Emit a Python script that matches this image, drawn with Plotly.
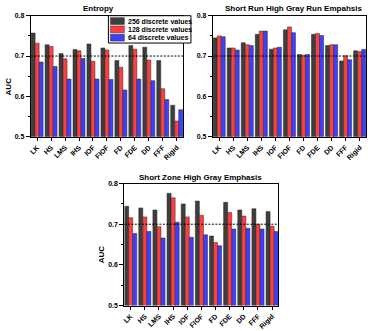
import plotly.graph_objs as go

methods = ['LK', 'HS', 'LMS', 'IHS', 'IOF', 'FIOF', 'FD', 'FDE', 'DD', 'FFF', 'Rigid']
series_names = ['256 discrete values', '128 discrete values', '64 discrete values']

entropy_256 = [0.757, 0.728, 0.706, 0.716, 0.730, 0.720, 0.689, 0.726, 0.722, 0.689, 0.578]
entropy_128 = [0.732, 0.724, 0.693, 0.713, 0.687, 0.715, 0.672, 0.717, 0.690, 0.619, 0.539]
entropy_64 = [0.685, 0.674, 0.643, 0.694, 0.643, 0.642, 0.616, 0.643, 0.639, 0.592, 0.567]

srhge_256 = [0.745, 0.720, 0.733, 0.754, 0.717, 0.765, 0.704, 0.754, 0.726, 0.688, 0.713]
srhge_128 = [0.750, 0.720, 0.728, 0.762, 0.720, 0.772, 0.702, 0.756, 0.728, 0.701, 0.711]
srhge_64 = [0.748, 0.715, 0.726, 0.762, 0.722, 0.758, 0.704, 0.751, 0.728, 0.691, 0.716]

szhge_256 = [0.744, 0.740, 0.735, 0.776, 0.750, 0.757, 0.671, 0.754, 0.735, 0.738, 0.731]
szhge_128 = [0.716, 0.718, 0.694, 0.765, 0.718, 0.722, 0.655, 0.729, 0.720, 0.700, 0.695]
szhge_64 = [0.677, 0.682, 0.666, 0.705, 0.668, 0.674, 0.647, 0.688, 0.690, 0.688, 0.682]

colors = ['rgb(62,62,62)', 'rgb(255,62,62)', 'rgb(62,62,255)']
font = 'Arial, Liberation Sans, sans-serif'
W, H = 368, 331


def px(x):
    return x / W


def py(y):
    return 1 - y / H


panels = [
    ('Entropy', [entropy_256, entropy_128, entropy_64], 'x', 'y'),
    ('Short Run High Gray Run Empahsis', [srhge_256, srhge_128, srhge_64], 'x2', 'y2'),
    ('Short Zone High Gray Emphasis', [szhge_256, szhge_128, szhge_64], 'x3', 'y3'),
]

data = []
for p, (title, vals, xa, ya) in enumerate(panels):
    for i in range(3):
        data.append(go.Bar(
            x=methods, y=vals[i],
            name=series_names[i],
            xaxis=xa, yaxis=ya,
            showlegend=False,
            marker=dict(color=colors[i], line=dict(color='rgb(40,40,40)', width=0.5)),
        ))


def xaxis(domain, anchor):
    return dict(
        domain=domain, anchor=anchor,
        range=[-0.45, 10.45],
        showline=True, linecolor='black', linewidth=1, mirror=True,
        ticks='outside', ticklen=3, tickcolor='black',
        tickangle=-45,
        tickfont=dict(family=font, size=7, color='black', weight='bold'),
        showgrid=False,
    )


def yaxis(domain, anchor):
    return dict(
        domain=domain, anchor=anchor,
        range=[0.5, 0.8],
        dtick=0.1, tickformat='.1f',
        showline=True, linecolor='black', linewidth=1, mirror=True,
        ticks='outside', ticklen=4, tickcolor='black',
        minor=dict(dtick=0.05, ticks='outside', ticklen=2, tickcolor='black'),
        tickfont=dict(family=font, size=7, color='black', weight='bold'),
        showgrid=False, zeroline=False,
    )


def label(text, x, y, size=8, angle=0, anchor='center'):
    return dict(text=text, xref='paper', yref='paper', x=px(x), y=py(y),
                xanchor=anchor, yanchor='middle', showarrow=False, textangle=angle,
                font=dict(family=font, size=size, color='black', weight='bold'))


annotations = [
    label('Entropy', 97, 5),
    label('Short Run High Gray Run Empahsis', 293, 5),
    label('Short Zone High Gray Emphasis', 200, 178),
    label('AUC', 7.5, 84, size=8, angle=-90),
    label('AUC', 100, 256, size=8, angle=-90),
]

# legend drawn by hand, inside the Entropy panel
shapes = [dict(type='rect', xref='paper', yref='paper',
               x0=px(107), x1=px(190), y0=py(40), y1=py(12),
               fillcolor='white', line=dict(color='black', width=1), layer='above')]
for i, name in enumerate(series_names):
    yc = 17.5 + 8.5 * i
    shapes.append(dict(type='rect', xref='paper', yref='paper',
                       x0=px(109), x1=px(123), y0=py(yc + 3.5), y1=py(yc - 3.5),
                       fillcolor=colors[i], line=dict(color='rgb(40,40,40)', width=0.5), layer='above'))
    annotations.append(label(name, 125, yc, size=7, anchor='left'))

for xa, ya in [('x', 'y'), ('x2', 'y2'), ('x3', 'y3')]:
    shapes.insert(0, dict(type='line', xref=xa + ' domain', yref=ya, x0=0, x1=1, y0=0.7, y1=0.7,
                          line=dict(color='black', width=1, dash='2px,1.5px')))

layout = go.Layout(
    width=W, height=H,
    margin=dict(l=0, r=0, t=0, b=0),
    paper_bgcolor='white', plot_bgcolor='white',
    barmode='group', bargap=0.14, bargroupgap=0,
    xaxis=xaxis([px(29), px(182)], 'y'),
    yaxis=yaxis([py(136), py(12)], 'x'),
    xaxis2=xaxis([px(212), px(366)], 'y2'),
    yaxis2=yaxis([py(136), py(12)], 'x2'),
    xaxis3=xaxis([px(123), px(278)], 'y3'),
    yaxis3=yaxis([py(309), py(184)], 'x3'),
    showlegend=False,
    annotations=annotations,
    shapes=shapes,
)

fig = go.Figure(data=data, layout=layout)
fig.write_html('out.html', config={'displayModeBar': False},
               post_script="document.body.style.margin='0';")
